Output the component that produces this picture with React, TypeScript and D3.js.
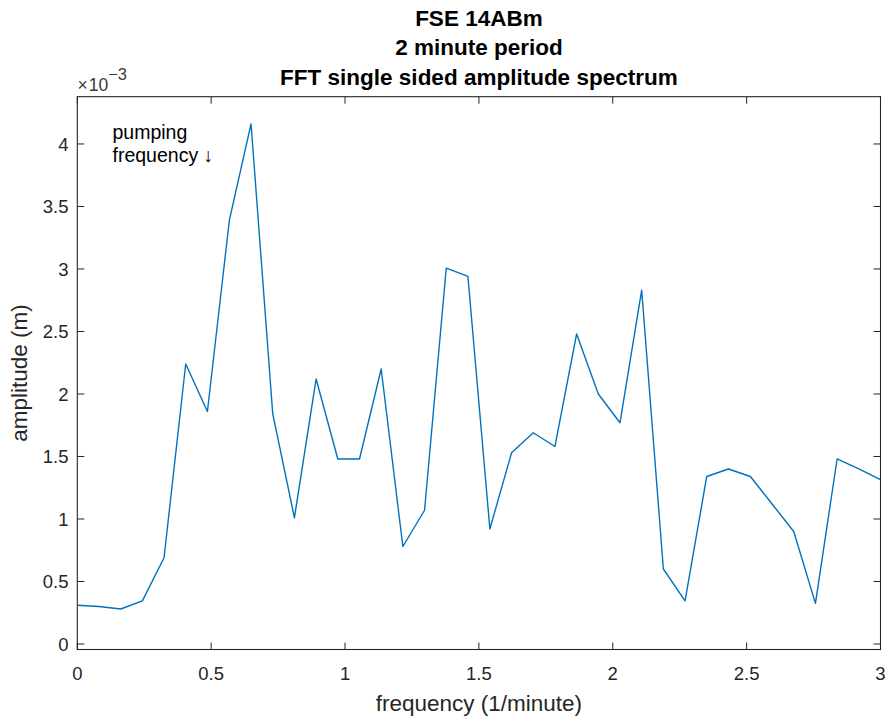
import React from "react";
import * as d3 from "d3";

const freqs = [0, 0.081, 0.162, 0.243, 0.324, 0.405, 0.486, 0.568, 0.649, 0.73, 0.811, 0.892, 0.973, 1.054, 1.135, 1.216, 1.297, 1.378, 1.459, 1.541, 1.622, 1.703, 1.784, 1.865, 1.946, 2.027, 2.108, 2.189, 2.27, 2.351, 2.432, 2.514, 2.595, 2.676, 2.757, 2.838, 2.919, 3.0];
const amps = [0.31, 0.3, 0.28, 0.345, 0.69, 2.24, 1.86, 3.39, 4.16, 1.84, 1.01, 2.12, 1.48, 1.48, 2.2, 0.78, 1.07, 3.006, 2.94, 0.92, 1.53, 1.69, 1.58, 2.48, 2.0, 1.77, 2.83, 0.6, 0.345, 1.34, 1.4, 1.34, 1.12, 0.9, 0.325, 1.48, 1.4, 1.315];
const xTicks = [0, 0.5, 1, 1.5, 2, 2.5, 3];
const xTickLabels = ["0", "0.5", "1", "1.5", "2", "2.5", "3"];
const yTicks = [0, 0.5, 1, 1.5, 2, 2.5, 3, 3.5, 4];
const yTickLabels = ["0", "0.5", "1", "1.5", "2", "2.5", "3", "3.5", "4"];
const titleLines = ["FSE 14ABm", "2 minute period", "FFT single sided amplitude spectrum"];

export default function App() {
  const W = 886, H = 719;
  const left = 77.3, right = 880.5, top = 96.7, bottom = 649.5;
  const x = d3.scaleLinear().domain([0, 3]).range([left, right]);
  const y = d3.scaleLinear().domain([-0.044, 4.378]).range([bottom, top]);
  const line = d3.line<number>().x((_, i) => x(freqs[i])).y((d) => y(d));
  const ax = "#262626";
  const font = "Arial, 'Liberation Sans', Helvetica, sans-serif";
  const tl = 7;
  return (
    <svg width={W} height={H} style={{ position: "absolute", left: 0, top: 0 }} fontFamily={font}>
      <rect x={0} y={0} width={W} height={H} fill="white" />
      <defs>
        <clipPath id="clip">
          <rect x={left} y={top} width={right - left} height={bottom - top} />
        </clipPath>
      </defs>
      <path d={line(amps) || ""} fill="none" stroke="#0072BD" strokeWidth={1.4} strokeLinejoin="round" clipPath="url(#clip)" />
      <rect x={left} y={top} width={right - left} height={bottom - top} fill="none" stroke={ax} strokeWidth={1.1} />
      {xTicks.map((t, i) => (
        <g key={"x" + i}>
          <line x1={x(t)} x2={x(t)} y1={bottom} y2={bottom - tl} stroke={ax} />
          <line x1={x(t)} x2={x(t)} y1={top} y2={top + tl} stroke={ax} />
          <text x={x(t)} y={679.5} textAnchor="middle" fontSize={18.5} fill={ax}>{xTickLabels[i]}</text>
        </g>
      ))}
      {yTicks.map((t, i) => (
        <g key={"y" + i}>
          <line x1={left} x2={left + tl} y1={y(t)} y2={y(t)} stroke={ax} />
          <line x1={right} x2={right - tl} y1={y(t)} y2={y(t)} stroke={ax} />
          <text x={68.5} y={y(t) + 6.6} textAnchor="end" fontSize={18.5} fill={ax}>{yTickLabels[i]}</text>
        </g>
      ))}
      <text x={77.5} y={90.5} style={{ fontSize: "17.5px" }} fill="#3a3a3a">
        ×<tspan dx={1}>10</tspan><tspan dy={-11} style={{ fontSize: "16.5px" }}>−3</tspan>
      </text>
      <text x={(left + right) / 2} y={711} textAnchor="middle" fontSize={22.5} fill={ax}>frequency (1/minute)</text>
      <text transform={`translate(27,${(top + bottom) / 2}) rotate(-90)`} textAnchor="middle" fontSize={22.5} fill={ax}>amplitude (m)</text>
      {titleLines.map((s, i) => (
        <text key={"t" + i} x={(left + right) / 2} y={25.5 + i * 29.5} textAnchor="middle" fontSize={22.5} fontWeight="bold" fill="#000">{s}</text>
      ))}
      <text x={112.5} y={139} fontSize={19.5} fill="#000">pumping</text>
      <text x={112.5} y={162} fontSize={19.5} fill="#000">frequency ↓</text>
    </svg>
  );
}
